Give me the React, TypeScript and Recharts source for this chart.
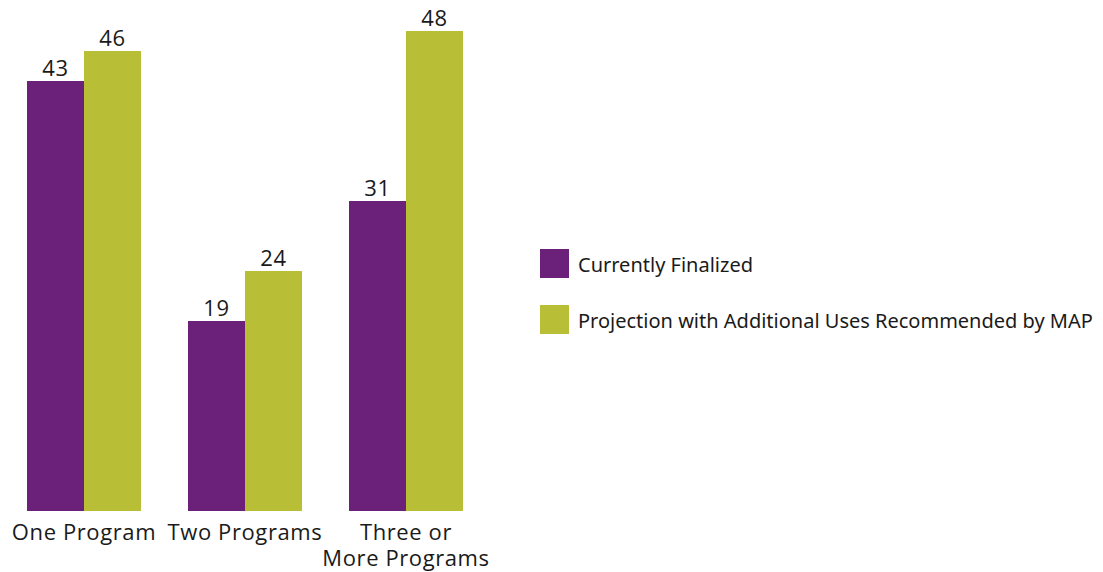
import { BarChart, Bar, XAxis, YAxis, LabelList } from 'recharts'

const categories = ['One Program', 'Two Programs', 'Three or\nMore Programs']
const currentlyFinalized = [43, 19, 31]
const projectionWithMap = [46, 24, 48]

const series = [
    { key: 'current', name: 'Currently Finalized', color: '#6b207a' },
    { key: 'projection', name: 'Projection with Additional Uses Recommended by MAP', color: '#b8bf36' },
]

const data = categories.map((name, i) => ({
    name,
    current: currentlyFinalized[i],
    projection: projectionWithMap[i],
}))

const labelFont = '"Open Sans", sans-serif'

function CategoryTick(props: any) {
    const { x, y, payload } = props
    const lines = String(payload.value).split('\n')
    return (
        <text x={x} y={y} textAnchor="middle" fill="#1a1a1a" fontSize={22} letterSpacing={0.6} fontFamily={labelFont}>
            {lines.map((line, i) => (
                <tspan key={i} x={x} dy={i === 0 ? 21 : 26}>{line}</tspan>
            ))}
        </text>
    )
}

export default function App() {
    return (
        <div style={{ position: 'absolute', left: 0, top: 0, width: 1103, height: 572, background: '#fff' }}>
            <BarChart
                width={1103}
                height={572}
                data={data}
                margin={{ top: 31, right: 616.5, bottom: 0, left: 3.5 }}
                barCategoryGap="14.6%"
                barGap={0}
            >
                <XAxis
                    dataKey="name"
                    axisLine={false}
                    tickLine={false}
                    height={61}
                    interval={0}
                    tick={<CategoryTick />}
                />
                <YAxis hide domain={[0, 48]} />
                {series.map((s) => (
                    <Bar key={s.key} dataKey={s.key} name={s.name} fill={s.color} isAnimationActive={false}>
                        <LabelList
                            dataKey={s.key}
                            position="top"
                            offset={5}
                            fill="#1a1a1a"
                            fontSize={22}
                            letterSpacing={0.6}
                            fontFamily={labelFont}
                        />
                    </Bar>
                ))}
            </BarChart>
            <div style={{ position: 'absolute', left: 540, top: 249, fontFamily: '"Noto Sans", sans-serif', fontSize: 20, color: '#1a1a1a' }}>
                {series.map((s, i) => (
                    <div key={s.key} style={{ display: 'flex', alignItems: 'center', height: 29, marginBottom: i === 0 ? 27 : 0 }}>
                        <span style={{ width: 29, height: 29, background: s.color, display: 'inline-block', marginRight: 9 }} />
                        <span style={{ whiteSpace: 'nowrap', position: 'relative', top: 1 }}>{s.name}</span>
                    </div>
                ))}
            </div>
        </div>
    )
}
